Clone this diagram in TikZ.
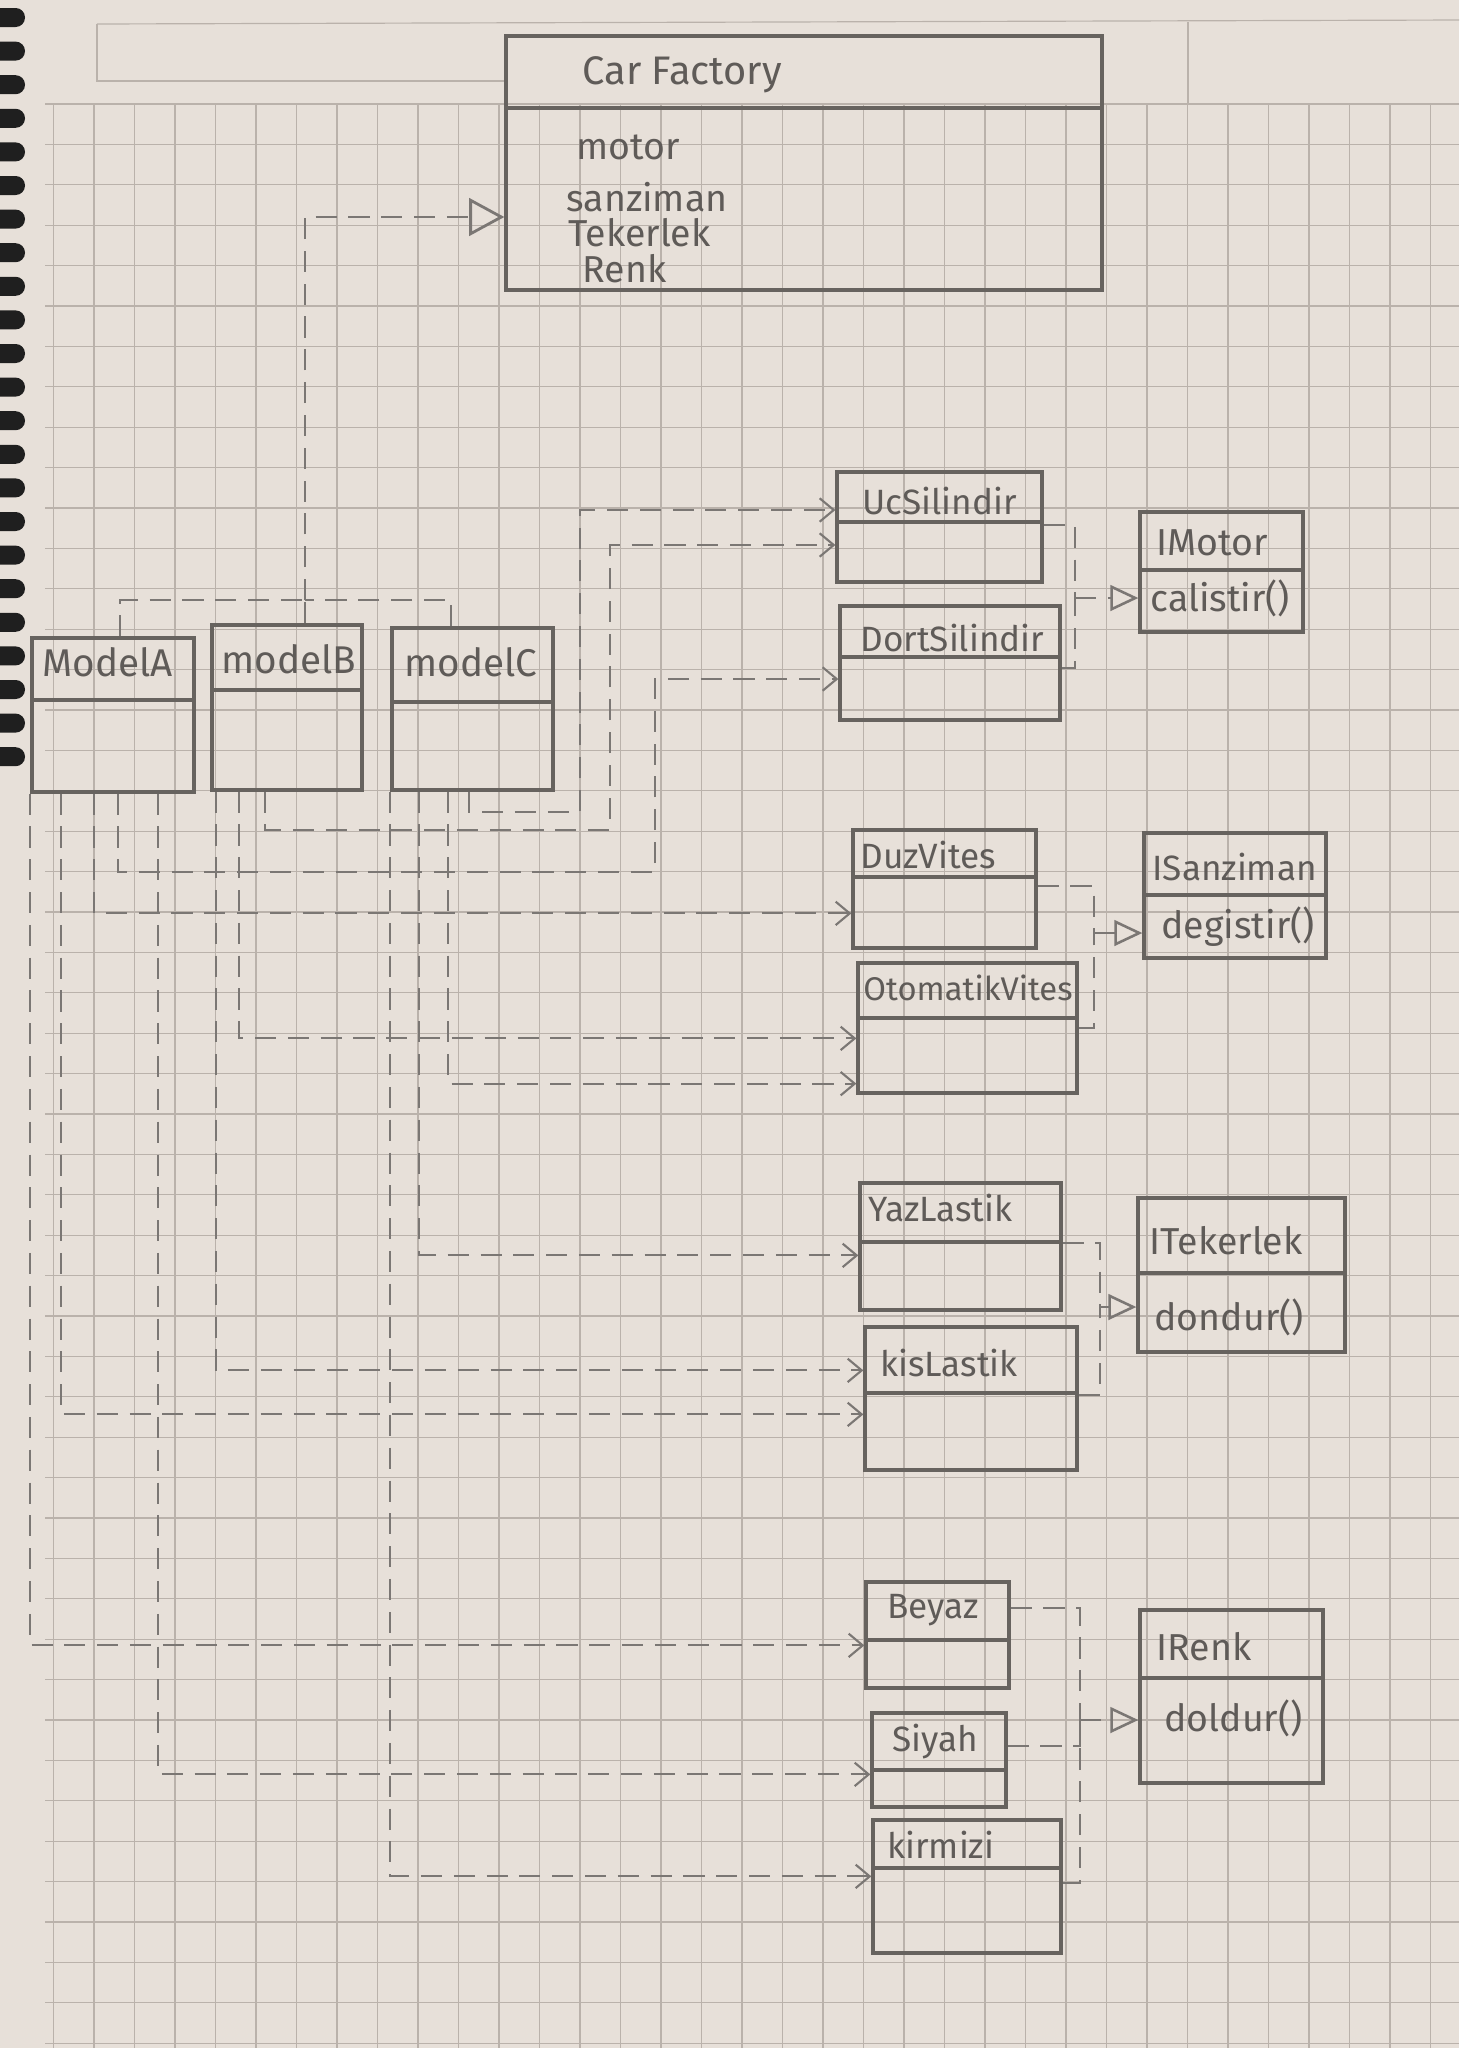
\documentclass[tikz,border=0pt]{standalone}
\usepackage{fontspec}
\setmainfont{Fira Sans}
\usetikzlibrary{arrows.meta,calc,fit}

\definecolor{paper}{HTML}{E7E0D9}
\definecolor{gridc}{HTML}{BAB2AB}
\definecolor{pencil}{HTML}{67635F}
\definecolor{pencillight}{HTML}{7B7774}
\definecolor{ink}{HTML}{5F5B58}

\tikzset{
  cls/.style={draw=pencil, line width=1.4pt, inner sep=0pt},
  clsline/.style={draw=pencil, line width=1.4pt},
  gridline/.style={draw=gridc, line width=0.5pt},
  hole/.style={fill=black!88, rounded corners=4pt},
  depline/.style={draw=pencillight, line width=0.9pt, dash pattern=on 9pt off 5pt},
  assoc/.style={depline, -{Straight Barb[length=6pt,width=10pt]}},
  realize/.style={depline, -{Triangle[open,length=12pt,width=11pt,line width=1.1pt]}},
  realizebig/.style={depline, -{Triangle[open,length=15pt,width=16pt,line width=1.2pt]}},
  txt/.style={anchor=west, inner sep=0pt, text=ink},
  cftitle/.style={txt, font=\fontsize{17}{20}\selectfont},
  attr/.style={txt, font=\fontsize{16}{19}\selectfont},
  modeltitle/.style={txt, font=\fontsize{16.5}{19}\selectfont},
  clstitle/.style={txt, font=\fontsize{15}{18}\selectfont},
  clstitlewide/.style={txt, font=\fontsize{14}{17}\selectfont},
  ititle/.style={txt, font=\fontsize{16}{19}\selectfont},
  ititlewide/.style={txt, font=\fontsize{15}{18}\selectfont},
  method/.style={txt, font=\fontsize{16}{19}\selectfont},
}

% class box: name, x1, y1, x2, y2, y of the compartment divider
\newcommand{\umlclass}[6]{%
  \node[cls, fit={(#2,#3) (#4,#5)}] (#1) {};
  \draw[clsline] (#2,#6) -- (#4,#6);
}

\begin{document}
\begin{tikzpicture}[x=0.015cm, y=-0.015cm]
\useasboundingbox (0,0) rectangle (1459,2048);
\fill[paper] (0,0) rectangle (1459,2048);

% graph paper
\foreach \i in {0,...,34}
  \draw[gridline] ({53.5+40.5*\i},104) -- ({53.5+40.5*\i},2048);
\foreach \j in {0,...,48}
  \draw[gridline] (45,{104+40.4*\j}) -- (1459,{104+40.4*\j});
% header strip
\draw[gridline] (97,24) -- (1459,20);
\draw[gridline] (97,24) -- (97,81) -- (506,81);
\draw[gridline] (1188,22) -- (1188,104);
% spiral binding
\foreach \k in {0,...,22}
  \fill[hole] (-10,{8+33.6*\k}) rectangle (25,{27+33.6*\k});

% ---------- Car Factory ----------
\umlclass{CF}{506}{36}{1102}{290}{108}
\node[cftitle] (CF-t) at (582,75) {Car Factory};
\node[attr] (CF-a1) at (576,147) {motor};
\node[attr] (CF-a2) at (566,197) {sanziman};
\node[attr] (CF-a3) at (568,233) {Tekerlek};
\node[attr] (CF-a4) at (582,269) {Renk};

% ---------- models ----------
\umlclass{mA}{32}{638}{194}{792}{700}
\node[modeltitle] (mA-t) at (42,662) {ModelA};
\umlclass{mB}{212}{625}{362}{790}{690}
\node[modeltitle] (mB-t) at (221,659) {modelB};
\umlclass{mC}{392}{628}{553}{790}{702}
\node[modeltitle] (mC-t) at (404,662) {modelC};

% ---------- motor ----------
\umlclass{UC}{837}{472}{1042}{582}{522}
\node[clstitle] (UC-t) at (862,501) {UcSilindir};
\umlclass{DS}{840}{606}{1060}{720}{657}
\node[clstitle] (DS-t) at (860,638) {DortSilindir};
\umlclass{IM}{1140}{512}{1303}{632}{570}
\node[ititle] (IM-t) at (1156,543) {IMotor};
\node[method] (IM-m) at (1150,598) {calistir()};

% ---------- sanziman ----------
\umlclass{DV}{853}{830}{1036}{948}{877}
\node[clstitle] (DV-t) at (860,855) {DuzVites};
\umlclass{OV}{858}{963}{1077}{1093}{1018}
\node[clstitlewide] (OV-t) at (863,988) {OtomatikVites};
\umlclass{IS}{1144}{833}{1326}{958}{895}
\node[ititlewide] (IS-t) at (1152,867) {ISanziman};
\node[method] (IS-m) at (1161,927) {degistir()};

% ---------- tekerlek ----------
\umlclass{YL}{860}{1183}{1061}{1310}{1242}
\node[clstitle] (YL-t) at (868,1208) {YazLastik};
\umlclass{KL}{865}{1327}{1077}{1470}{1393}
\node[clstitle] (KL-t) at (880,1363) {kisLastik};
\umlclass{IT}{1138}{1198}{1345}{1352}{1273}
\node[ititle] (IT-t) at (1149,1241) {ITekerlek};
\node[method] (IT-m) at (1154,1317) {dondur()};

% ---------- renk ----------
\umlclass{BY}{866}{1582}{1009}{1688}{1640}
\node[clstitle] (BY-t) at (887,1610) {Beyaz};
\umlclass{SY}{872}{1713}{1006}{1807}{1770}
\node[clstitle] (SY-t) at (892,1742) {Siyah};
\umlclass{KR}{873}{1820}{1061}{1953}{1868}
\node[clstitle] (KR-t) at (887,1845) {kirmizi};
\umlclass{IR}{1140}{1610}{1323}{1783}{1678}
\node[ititle] (IR-t) at (1156,1647) {IRenk};
\node[method] (IR-m) at (1164,1718) {doldur()};

% ---------- models -> Car Factory ----------
\coordinate (t0) at (305,600);
\coordinate (t1) at (305,217);
\draw[depline] ($(mA.north west)+(90,0)$) |- (t0);
\draw[depline] ($(mC.north west)+(61,0)$) |- (t0);
\draw[depline] (mB.north -| t0) -- (t0);
\draw[realizebig] (t0) -- (t1) -- (CF.west |- t1);

% ---------- associations ----------
\coordinate (v1) at (580,510);
\coordinate (v2) at (610,545);
\coordinate (v3) at (655,679);
% ModelA
\draw[assoc] ($(mA.south west)+(88,0)$) -- ++(0,78) -| (v3) -- (DS.west |- v3);
\draw[assoc] ($(mA.south west)+(64,0)$) |- ($(DV.north west)+(0,85)$);
\draw[assoc] ($(mA.south west)+(31,0)$) |- ($(KL.north west)+(0,89)$);
\draw[assoc] (mA.south west) |- ($(BY.north west)+(0,65)$);
\draw[assoc] ($(mA.south west)+(128,0)$) |- ($(SY.north west)+(0,63)$);
% modelB
\draw[assoc] ($(mB.south west)+(55,0)$) -- ++(0,38) -| (v2) -- (UC.west |- v2);
\draw[assoc] ($(mB.south west)+(29,0)$) |- ($(OV.north west)+(0,77)$);
\draw[assoc] ($(mB.south west)+(6,0)$) |- ($(KL.north west)+(0,45)$);
% modelC
\draw[assoc] ($(mC.south west)+(79,0)$) -- ++(0,20) -| (v1) -- (UC.west |- v1);
\draw[assoc] ($(mC.south west)+(58,0)$) |- ($(OV.south west)+(0,-11)$);
\draw[assoc] ($(mC.south west)+(29,0)$) |- ($(YL.north west)+(0,74)$);
\draw[assoc] (mC.south west) |- ($(KR.north west)+(0,58)$);

% ---------- realizations ----------
\coordinate (j1) at (1075,598);
\draw[depline] ($(UC.north east)+(0,55)$) -| (j1);
\draw[depline] ($(DS.north east)+(0,64)$) -| (j1);
\draw[realize] (j1) -- (IM.west |- j1);

\coordinate (j2) at (1094,933);
\draw[depline] ($(DV.north east)+(0,58)$) -| (j2);
\draw[depline] ($(OV.north east)+(0,67)$) -| (j2);
\draw[realize] (j2) -- (IS.west |- j2);

\coordinate (j3) at (1100,1307);
\draw[depline] ($(YL.north east)+(0,62)$) -| (j3);
\draw[depline] ($(KL.north east)+(0,70)$) -| (j3);
\draw[realize] (j3) -- (IT.west |- j3);

\coordinate (j4) at (1080,1720);
\draw[depline] ($(BY.north east)+(0,28)$) -| (j4);
\draw[depline] ($(SY.north east)+(0,35)$) -| (j4);
\draw[depline] ($(KR.north east)+(0,65)$) -| (j4);
\draw[realize] (j4) -- (IR.west |- j4);
\end{tikzpicture}
\end{document}
